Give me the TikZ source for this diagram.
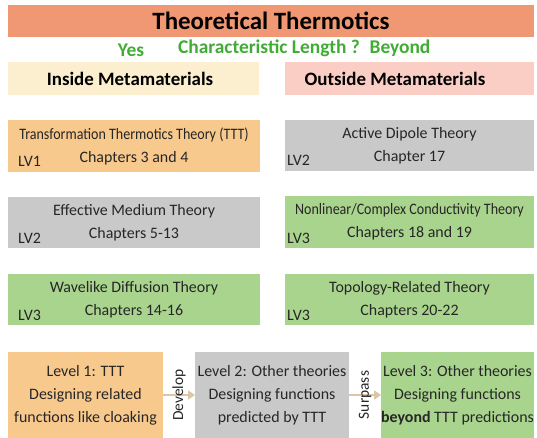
\documentclass[tikz,border=0pt]{standalone}
\usepackage{fontspec}
\setmainfont{Carlito}
\usetikzlibrary{calc,arrows.meta}
\definecolor{titlec}{RGB}{240,152,116}
\definecolor{yellowc}{RGB}{252,239,207}
\definecolor{pinkc}{RGB}{250,206,196}
\definecolor{orangec}{RGB}{248,201,141}
\definecolor{grayc}{RGB}{201,201,201}
\definecolor{greenc}{RGB}{169,212,142}
\definecolor{gtext}{RGB}{64,172,52}
\definecolor{arrowc}{RGB}{218,198,168}
\tikzset{
  box/.style={inner sep=0pt, outer sep=0pt, align=center},
  boxtext/.style={font=\fontsize{16}{23}\selectfont, text=black!85},
  lvtext/.style={font=\fontsize{16}{18}\selectfont, anchor=base west, text=black!85, inner sep=0pt},
  bottomtext/.style={font=\fontsize{16}{23}\selectfont, text=black!85},
  flow/.style={draw=arrowc, line width=1.8pt, -{Triangle[length=7pt,width=9pt]}},
  flowlabel/.style={font=\fontsize{15.5}{17}\selectfont, rotate=90, text=black!85, inner sep=0pt}
}
\begin{document}
\begin{tikzpicture}[x=1bp,y=-1bp]
\useasboundingbox (0,0) rectangle (537,438);
% title
\node[box, fill=titlec, minimum width=526bp, minimum height=32bp, font=\fontsize{25}{28}\selectfont\bfseries] (title) at (271,21) {Theoretical Thermotics};
\node[font=\fontsize{19.5}{22}\selectfont\bfseries, text=gtext, inner sep=0pt] (yes) at (131,50) {Yes};
\node[font=\fontsize{19.5}{22}\selectfont\bfseries, text=gtext, inner sep=0pt] (cl) at (269,48) {Characteristic Length ?};
\node[font=\fontsize{19.5}{22}\selectfont\bfseries, text=gtext, inner sep=0pt] (beyond) at (400,48) {Beyond};
% headers
\node[box, fill=yellowc, minimum width=251bp, minimum height=33bp, font=\fontsize{19}{21}\selectfont\bfseries] (inside) at (133.5,78.5) {\hspace*{-7bp}Inside Metamaterials};
\node[box, fill=pinkc, minimum width=249bp, minimum height=33bp, font=\fontsize{19}{21}\selectfont\bfseries] (outside) at (409.5,78.5) {\hspace*{-29bp}Outside Metamaterials};
% left column
\node[box, boxtext, fill=orangec, minimum width=252bp, minimum height=52bp] (ttt) at (134,146) {\scalebox{0.88}[1]{Transformation Thermotics Theory (TTT)}\\Chapters 3 and 4};
\node[lvtext] (lv1) at ($(ttt.south west)+(10,-5)$) {LV1};
\node[box, boxtext, fill=grayc, minimum width=252bp, minimum height=51bp] (emt) at (134,222.5) {Effective Medium Theory\\Chapters 5-13};
\node[lvtext] (lv2a) at ($(emt.south west)+(10,-5)$) {LV2};
\node[box, boxtext, fill=greenc, minimum width=252bp, minimum height=51bp] (wdt) at (134,299.5) {Wavelike Diffusion Theory\\Chapters 14-16};
\node[lvtext] (lv3a) at ($(wdt.south west)+(10,-5)$) {LV3};
% right column
\node[box, boxtext, fill=grayc, minimum width=249bp, minimum height=51bp] (adt) at (409.5,145.5) {Active Dipole Theory\\Chapter 17};
\node[lvtext] (lv2b) at ($(adt.south west)+(2,-5)$) {LV2};
\node[box, boxtext, fill=greenc, minimum width=249bp, minimum height=52bp] (ncc) at (409.5,222) {\scalebox{0.88}[1]{Nonlinear/Complex Conductivity Theory}\\Chapters 18 and 19};
\node[lvtext] (lv3b) at ($(ncc.south west)+(2,-5)$) {LV3};
\node[box, boxtext, fill=greenc, minimum width=249bp, minimum height=51bp] (trt) at (409.5,299.5) {Topology-Related Theory\\Chapters 20-22};
\node[lvtext] (lv3c) at ($(trt.south west)+(2,-5)$) {LV3};
% bottom row
\node[box, bottomtext, fill=orangec, minimum width=155bp, minimum height=86bp] (l1) at (85.5,395) {Level 1: TTT\\Designing related\\functions like cloaking};
\node[box, bottomtext, fill=grayc, minimum width=154bp, minimum height=86bp] (l2) at (272,395) {Level 2: Other theories\\Designing functions\\predicted by TTT};
\node[box, bottomtext, fill=greenc, minimum width=151bp, minimum height=86bp] (l3) at (457.5,395) {Level 3: Other theories\\Designing functions\\\textbf{beyond} TTT predictions};
\draw[flow] (l1.east) -- (l2.west);
\draw[flow] (l2.east) -- (l3.west);
\node[flowlabel] (dev) at ($(l1.east)!0.5!(l2.west)$) {Develop};
\node[flowlabel] (sur) at ($(l2.east)!0.5!(l3.west)$) {Surpass};
\end{tikzpicture}
\end{document}
